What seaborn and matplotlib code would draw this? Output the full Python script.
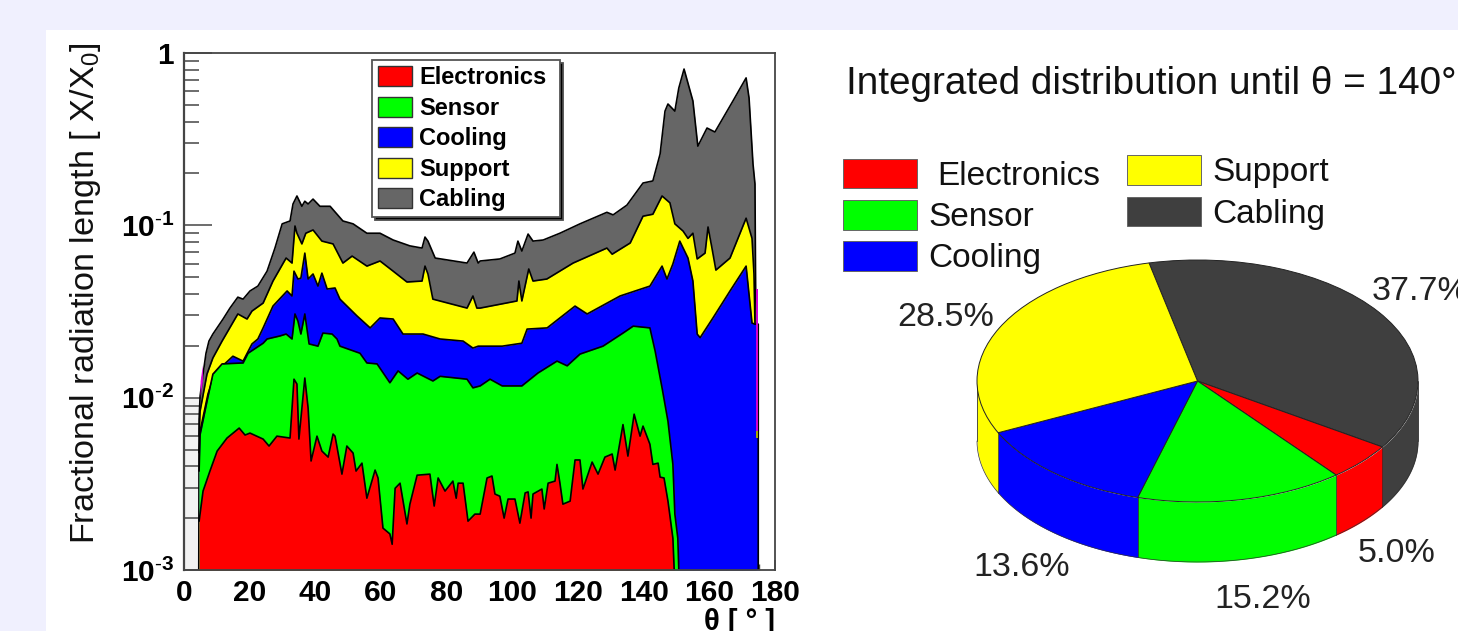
import numpy as np
import pandas as pd
import seaborn as sns
import matplotlib
matplotlib.use("Agg")
import matplotlib.pyplot as plt
from matplotlib.patches import Patch, Rectangle
from matplotlib.ticker import LogLocator, NullFormatter

# ---------- data ----------
cabling_theta = [4.5,4.6,4.9,5.8,6.7,7.6,8.8,11.9,14.0,16.4,18.0,20.1,22.5,25.3,27.7,29.9,32.3,33.2,34.4,35.9,36.8,37.8,39.3,41.4,44.5,48.4,51.5,55.7,59.7,63.7,68.8,72.5,73.4,74.3,76.5,86.2,88.3,89.6,90.2,96.2,100.8,101.7,102.9,104.8,106.3,109.4,114.5,120.6,128.8,130.7,134.9,139.8,142.8,145.0,146.5,147.4,149.5,150.7,152.3,155.0,156.5,159.3,161.7,167.2,171.2,172.1,173.3,173.9,174.2]
cabling_top = [0.001,0.0075,0.0102,0.0137,0.0181,0.0213,0.0234,0.0286,0.0331,0.0383,0.0373,0.0416,0.0444,0.0542,0.0738,0.102,0.106,0.133,0.148,0.129,0.138,0.133,0.142,0.129,0.129,0.106,0.102,0.0900,0.0900,0.0822,0.0760,0.0738,0.0855,0.0810,0.0646,0.0604,0.0699,0.0604,0.0621,0.0638,0.0690,0.0810,0.0709,0.0890,0.0810,0.0822,0.0900,0.102,0.119,0.115,0.131,0.176,0.181,0.259,0.460,0.506,0.460,0.626,0.807,0.527,0.288,0.367,0.348,0.527,0.717,0.548,0.227,0.174,0.0213]

support_theta = [4.6,4.9,7.0,8.8,11.6,16.4,19.2,20.7,24.1,27.1,31.1,32.9,33.8,34.4,35.9,37.1,39.3,42.0,45.4,48.4,51.2,55.7,59.7,63.7,67.9,72.5,73.4,74.3,75.8,86.2,88.0,89.2,90.2,101.4,102.0,102.9,105.0,106.3,110.5,118.5,128.8,130.4,135.9,139.8,142.8,145.6,148.0,149.5,152.0,153.5,155.0,156.3,158.7,159.6,160.8,162.0,166.3,171.2,173.0,173.6,173.9,174.3]
support_top = [0.0060,0.00835,0.0137,0.0170,0.0213,0.0306,0.0286,0.0318,0.0354,0.0475,0.0646,0.0604,0.0991,0.0900,0.0780,0.0900,0.0940,0.0810,0.0780,0.0604,0.0663,0.0580,0.0621,0.0542,0.0469,0.0475,0.0580,0.0522,0.0373,0.0331,0.0389,0.0331,0.0331,0.0364,0.0475,0.0364,0.0558,0.0475,0.0488,0.0604,0.0738,0.0680,0.0790,0.113,0.116,0.148,0.135,0.102,0.0926,0.0840,0.0900,0.0638,0.0690,0.0978,0.0738,0.0550,0.0646,0.110,0.0840,0.0522,0.0267,0.0213]

cooling_theta = [4.6,4.9,7.3,9.4,14.9,18.0,20.7,22.5,24.1,27.1,31.4,32.9,33.5,34.7,35.6,36.8,37.8,39.3,40.8,42.0,43.6,46.0,47.5,52.7,56.7,59.7,63.7,66.7,72.8,78.0,85.0,88.0,89.6,96.9,102.9,104.5,110.6,119.1,122.8,132.8,141.9,145.6,147.1,148.9,151.0,153.5,155.0,156.3,157.2,161.1,166.3,171.2,173.0,173.9,174.9,174.9]
cooling_top = [0.0048,0.0064,0.0105,0.0139,0.0174,0.0163,0.0205,0.0219,0.0254,0.0340,0.0416,0.0389,0.0542,0.0488,0.0494,0.0690,0.0488,0.0522,0.0444,0.0528,0.0427,0.0433,0.0373,0.0298,0.0254,0.0290,0.0286,0.0234,0.0234,0.0219,0.0213,0.0194,0.0199,0.0199,0.0207,0.0250,0.0254,0.0340,0.0306,0.0389,0.0444,0.0580,0.0488,0.0597,0.0810,0.0646,0.0475,0.0234,0.0223,0.0290,0.0416,0.0580,0.0271,0.0267,0.0267,0.001]

sensor_theta = [4.6,4.9,7.0,8.8,11.6,18.0,19.5,24.1,25.3,29.2,31.1,32.9,33.8,34.7,35.6,36.8,38.1,40.8,42.3,45.1,46.6,47.5,53.6,55.7,58.8,62.7,65.2,68.2,71.0,75.8,78.0,86.2,88.0,90.2,93.2,96.9,102.9,107.8,113.6,116.7,120.6,127.6,133.7,136.8,141.9,143.5,145.6,147.4,148.9,149.5,150.4,150.7]
sensor_top = [0.00375,0.0061,0.0095,0.0137,0.0157,0.0159,0.0181,0.0207,0.0219,0.0228,0.0234,0.0219,0.0306,0.0278,0.0234,0.0306,0.0205,0.0199,0.0237,0.0234,0.0219,0.0199,0.0181,0.0159,0.0157,0.0122,0.0143,0.0128,0.0139,0.0125,0.0133,0.0128,0.0114,0.0117,0.0128,0.0117,0.0117,0.0139,0.0163,0.0153,0.0179,0.0199,0.0237,0.0260,0.0254,0.0186,0.0114,0.0073,0.0041,0.00211,0.00153,0.001]

electronics_theta = [4.6,5.8,7.9,10.1,13.1,16.8,18.6,20.1,24.1,25.9,28.3,32.3,33.5,34.4,35.0,36.8,37.8,38.7,40.5,42.0,43.9,45.4,46.0,48.1,49.6,51.5,52.4,54.2,55.7,58.2,59.1,60.6,62.7,63.4,64.3,65.8,67.9,68.8,71.0,74.9,76.2,77.4,79.5,81.9,82.9,83.5,85.0,86.5,88.6,90.2,92.3,93.8,94.7,96.2,97.5,98.7,100.8,102.3,103.9,104.8,105.7,106.3,109.0,109.7,110.9,113.0,113.6,114.5,115.4,117.6,119.1,120.6,121.5,124.3,126.1,128.2,130.4,131.3,133.7,135.2,137.1,138.9,139.8,141.9,142.8,144.4,145.0,146.2,147.4,148.9,149.3]
electronics_top = [0.00192,0.00287,0.00375,0.00490,0.00583,0.00666,0.00607,0.00623,0.00575,0.00524,0.00598,0.00583,0.0128,0.0120,0.00575,0.0130,0.0087,0.00429,0.00598,0.00490,0.00452,0.00615,0.00598,0.00360,0.00524,0.00477,0.00375,0.00417,0.00261,0.00380,0.00342,0.00175,0.00162,0.00141,0.00298,0.00319,0.00185,0.00241,0.00355,0.00360,0.00235,0.00342,0.00287,0.00328,0.00261,0.00319,0.00319,0.00192,0.00211,0.00211,0.00342,0.00351,0.00276,0.00268,0.00200,0.00258,0.00258,0.00187,0.00280,0.00284,0.00200,0.00276,0.00295,0.00226,0.00319,0.00328,0.00410,0.00319,0.00241,0.00251,0.00435,0.00435,0.00295,0.00423,0.00360,0.00452,0.00471,0.00380,0.00698,0.00458,0.00802,0.00598,0.00684,0.00537,0.00410,0.00417,0.00346,0.00342,0.00251,0.00153,0.001]

other_left_theta = [4.9, 5.6]
other_left_low = [0.0102, 0.0125]
other_left_high = [0.0125, 0.0155]
other_right_theta = [174.2, 174.9]
other_right_low = [0.0064, 0.0064]
other_right_high = [0.0427, 0.0427]
rest_right_low = [0.0058, 0.0058]

hist_labels = ["Electronics", "Sensor", "Cooling", "Support", "Cabling"]
hist_colors = ["#ff0000", "#00ff00", "#0000ff", "#ffff00", "#666666"]

pie_order = ["Cabling", "Electronics", "Sensor", "Cooling", "Support"]
pie_values = [37.7, 5.0, 15.2, 13.6, 28.5]
pie_colors = ["#3f3f3f", "#ff0000", "#00ff00", "#0000ff", "#ffff00"]
pie_start_angle = 102.7

# ---------- style ----------
W, H = 1458, 631
sns.set_theme(style="white")
plt.rcParams["font.family"] = ["Liberation Sans", "DejaVu Sans"]
plt.rcParams["text.color"] = "black"
plt.rcParams["mathtext.fontset"] = "custom"
plt.rcParams["mathtext.rm"] = "Liberation Sans"
plt.rcParams["mathtext.bf"] = "Liberation Sans:bold"
plt.rcParams["mathtext.it"] = "Liberation Sans:italic"


def fx(x):
    return x / W


def fy(y):
    return 1 - y / H


fig = plt.figure(figsize=(W / 100, H / 100), dpi=100, facecolor="#f0f0fe")
fig.patches.append(Rectangle((fx(46), 0), 1 - fx(46), fy(30), transform=fig.transFigure,
                             facecolor="white", edgecolor="none", zorder=-10))

# ---------- left panel ----------
ax = fig.add_axes([fx(184), fy(570), (775 - 184) / W, (570 - 53) / H], facecolor="white")
ax.set_yscale("log")

layers = [
    ("Cabling", cabling_theta, cabling_top, "#666666"),
    ("Support", support_theta, support_top, "#ffff00"),
    ("Cooling", cooling_theta, cooling_top, "#0000ff"),
    ("Sensor", sensor_theta, sensor_top, "#00ff00"),
    ("Electronics", electronics_theta, electronics_top, "#ff0000"),
]
ax.fill_between([0, 4.5], [1e-3, 1e-3], [1e-2, 1e-2], color="#f2f2f2", lw=0, zorder=0.5)
z = 1
for name, t, v, c in layers:
    ax.fill_between(t, 1e-3, v, color=c, lw=0, zorder=z)
    df = pd.DataFrame({"theta": t, "value": v})
    sns.lineplot(data=df, x="theta", y="value", ax=ax, estimator=None, sort=False,
                 color="black", lw=1.2, zorder=z + 0.5)
    z += 1
ax.fill_between(other_left_theta, other_left_low, other_left_high, color="#e000e0", lw=0, zorder=z)
ax.fill_between(other_right_theta, other_right_low, other_right_high, color="#d000d0", lw=0, zorder=z)
ax.fill_between(other_right_theta, rest_right_low, other_right_low, color="#a8a800", lw=0, zorder=z)

ax.set_xlim(0, 180)
ax.set_ylim(1e-3, 1)
ax.set_xticks(np.arange(0, 181, 20))
ax.set_xticks(np.arange(0, 181, 5), minor=True)
ax.set_yticks([1e-3, 1e-2, 1e-1, 1],
              labels=[r"$\mathbf{10}^{\text{-}\mathbf{3}}$", r"$\mathbf{10}^{\text{-}\mathbf{2}}$",
                      r"$\mathbf{10}^{\text{-}\mathbf{1}}$", r"$\mathbf{1}$"])
ax.yaxis.set_minor_locator(LogLocator(10, subs=range(2, 10), numticks=12))
ax.yaxis.set_minor_formatter(NullFormatter())
fc = "#454545"
ax.tick_params(axis="x", which="major", direction="in", length=7.2, width=1.1, color=fc, bottom=True,
               labelsize=21.5, pad=6.5, labelcolor="black")
ax.tick_params(axis="x", which="minor", direction="in", length=4.3, width=1.0, color=fc, bottom=True)
ax.tick_params(axis="y", which="major", direction="in", length=20, width=1.1, color=fc, left=True,
               labelsize=21.5, pad=7, labelcolor="black")
ax.tick_params(axis="y", which="minor", direction="in", length=10.8, width=1.1, color=fc, left=True)
for lab in ax.get_xticklabels():
    lab.set_fontweight("bold")
for s in ax.spines.values():
    s.set_color(fc)
    s.set_linewidth(1.3)
    s.set_zorder(20)
ax.spines["left"].set_linewidth(1.6)
ax.grid(False)
ax.set_xlabel("")
ax.set_ylabel(r"Fractional radiation length [ X/X$\mathregular{_0}$]", fontsize=24.7, color="#111111")
ax.yaxis.set_label_coords((103 - 184) / 591, (570 - 293) / 517)
fig.text(fx(775), fy(622), "θ [ ° ]", ha="right", va="center", fontsize=21, fontweight="bold", color="black")

handles = [Patch(facecolor=c, edgecolor="#333333", lw=1.0, label=l) for l, c in zip(hist_labels, hist_colors)]
leg = ax.legend(handles=handles, loc="upper left",
                bbox_to_anchor=((372 - 184) / 591, (570 - 60) / 517),
                fancybox=False, framealpha=1, edgecolor="#555555", facecolor="white",
                shadow={"facecolor": "black", "alpha": 1},
                prop={"size": 17, "weight": "bold", "family": "Liberation Sans"},
                handlelength=1.44, handleheight=0.93, handletextpad=0.3,
                labelspacing=0.31, borderpad=0.26, borderaxespad=0, alignment="left")
leg.set_zorder(30)
leg.get_frame().set_linewidth(1.3)
leg._legend_box.set_width(176)

# ---------- right panel ----------
fig.text(fx(846), fy(84), "Integrated distribution until θ = 140°", ha="left", va="center",
         fontsize=27.9, color="#111111")

right_legend = [
    ("Electronics", "#ff0000", 843, 159, 188, 937, 176),
    ("Sensor", "#00ff00", 843, 200, 230, 928, 218),
    ("Cooling", "#0000ff", 843, 241, 271, 928, 259),
    ("Support", "#ffff00", 1127, 155, 185, 1212, 173),
    ("Cabling", "#3f3f3f", 1127, 197, 226, 1212, 214),
]
for name, c, x0, y0, y1, tx, ty in right_legend:
    fig.patches.append(Rectangle((fx(x0), fy(y1)), 74 / W, (y1 - y0) / H, transform=fig.transFigure,
                                 facecolor=c, edgecolor="#666666", lw=0.7))
    fig.text(fx(tx), fy(ty), name, ha="left", va="center", fontsize=24, color="#111111")

pax = fig.add_axes([fx(960), fy(600), (W - 960) / W, (600 - 250) / H])
pax.patch.set_alpha(0)
pie_depth = 60 / 121
edges = np.cumsum([0] + pie_values) / 100 * 360
for (a0, a1), col in zip(zip(pie_start_angle - edges[:-1], pie_start_angle - edges[1:]), pie_colors):
    ang = np.radians(np.linspace(a0, a1, 300))
    mask = np.sin(ang) <= 0
    if mask.any():
        xs, ys = np.cos(ang[mask]), np.sin(ang[mask])
        pax.fill_between(xs, ys - pie_depth, ys, color=col, lw=0, zorder=1)
pie_ang = np.radians(np.linspace(180, 360, 400))
pax.plot(np.cos(pie_ang), np.sin(pie_ang) - pie_depth, color="#333333", lw=0.5, zorder=2)
pax.plot([-1, -1], [0, -pie_depth], color="#333333", lw=0.6, zorder=2)
pax.plot([1, 1], [0, -pie_depth], color="#333333", lw=0.6, zorder=2)
for e in edges[:-1]:
    a = np.radians(pie_start_angle - e)
    if np.sin(a) < 0:
        pax.plot([np.cos(a)] * 2, [np.sin(a), np.sin(a) - pie_depth], color="#222222", lw=0.5, zorder=2)
pax.pie(pie_values, colors=pie_colors, startangle=pie_start_angle, counterclock=False,
        radius=1, wedgeprops={"edgecolor": "#222222", "linewidth": 0.7, "zorder": 3})
pax.set_aspect("auto")
pax.set_xlim((960 - 1197.5) / 220.5, (W - 1197.5) / 220.5)
pax.set_ylim((381 - 600) / 121, (381 - 250) / 121)
pax.axis("off")

pie_text = [("37.7%", 1372, 291), ("28.5%", 897, 317), ("13.6%", 973, 567), ("15.2%", 1214, 599), ("5.0%", 1358, 553)]
for s, x, y in pie_text:
    fig.text(fx(x), fy(y), s, ha="left", va="center", fontsize=24.5, color="#222222")

fig.savefig("out.png", dpi=100, facecolor=fig.get_facecolor())
